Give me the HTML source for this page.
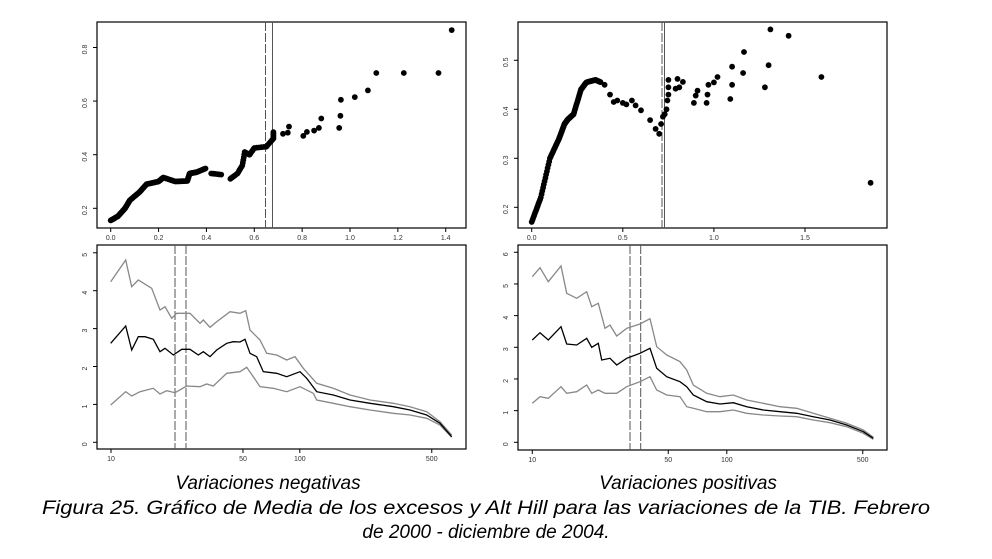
<!DOCTYPE html>
<html><head><meta charset="utf-8"><style>
html,body{margin:0;padding:0;background:#fff;}
svg{display:block;font-family:"Liberation Sans",sans-serif;}
</style></head><body>
<svg id="s" width="992" height="559" viewBox="0 0 992 559" xmlns="http://www.w3.org/2000/svg">
<rect width="992" height="559" fill="#fff"/>
<g fill="none" stroke="#000" stroke-width="1.2">
<rect x="97" y="22" width="369" height="206"/>
<rect x="97" y="245" width="369" height="204"/>
<rect x="518" y="22" width="369" height="206"/>
<rect x="518" y="245" width="369" height="205"/>
</g>
<g id="g"></g>
<g font-style="italic" font-size="19" fill="#000" text-anchor="middle">
<text x="268" y="489">Variaciones negativas</text>
<text x="688" y="489">Variaciones positivas</text>
<text x="486" y="514" textLength="888" lengthAdjust="spacingAndGlyphs">Figura 25. Gráfico de Media de los excesos y Alt Hill para las variaciones de la TIB. Febrero</text>
<text x="486" y="538">de 2000 - diciembre de 2004.</text>
</g>
</svg>
<script>
var g=document.getElementById('g'),h='';
function line(x1,y1,x2,y2,c,w,d){h+='<line x1="'+x1+'" y1="'+y1+'" x2="'+x2+'" y2="'+y2+'" stroke="'+(c||'#000')+'" stroke-width="'+(w||1)+'"'+(d?' stroke-dasharray="'+d+'"':'')+'/>';}
function txt(x,y,t,rot){h+='<text x="'+x+'" y="'+y+'" font-size="7" text-anchor="middle" fill="#333"'+(rot?' transform="rotate(-90 '+x+' '+y+')"':'')+'>'+t+'</text>';}
function dot(x,y){h+='<circle cx="'+x.toFixed(1)+'" cy="'+y.toFixed(1)+'" r="2.9" fill="#000"/>';}
function xt(x,y0,t){line(x,y0,x,y0+4);txt(x,y0+12,t);}
function yt(y,x0,t){line(x0,y,x0-4,y);txt(x0-10,y+2,t,1);}
// top-left axes
[[0,'0.0'],[0.2,'0.2'],[0.4,'0.4'],[0.6,'0.6'],[0.8,'0.8'],[1.0,'1.0'],[1.2,'1.2'],[1.4,'1.4']].forEach(function(a){xt(110.7+239.3*a[0],228,a[1]);});
[[0.2,'0.2'],[0.4,'0.4'],[0.6,'0.6'],[0.8,'0.8']].forEach(function(a){yt(208.3-(a[0]-0.2)*268,97,a[1]);});
// top-right axes
[[0,'0.0'],[0.5,'0.5'],[1.0,'1.0'],[1.5,'1.5']].forEach(function(a){xt(531.7+182.2*a[0],228,a[1]);});
[[0.2,'0.2'],[0.3,'0.3'],[0.4,'0.4'],[0.5,'0.5']].forEach(function(a){yt(207.3-(a[0]-0.2)*490,518,a[1]);});
// bottom-left axes
[[10,'10'],[50,'50'],[100,'100'],[500,'500']].forEach(function(a){xt(111+188.8*Math.log10(a[0]/10),449,a[1]);});
for(var i=0;i<=5;i++)yt(442.3-37.9*i,97,i);
// bottom-right axes
[[10,'10'],[50,'50'],[100,'100'],[500,'500']].forEach(function(a){xt(532.3+194.5*Math.log10(a[0]/10),450,a[1]);});
for(var i=0;i<=6;i++)yt(442.3-31.67*i,518,i);
// vertical lines
line(265.5,22,265.5,228,'#555',1,'9 2');line(272.5,22,272.5,228,'#555',1);
line(662,22,662,228,'#555',1,'9 2');line(664.5,22,664.5,228,'#555',1);
line(175,245,175,449,'#555',1,'9 2');line(186,245,186,449,'#555',1,'9 2');
line(630,245,630,450,'#555',1,'9 2');line(640.7,245,640.7,450,'#555',1,'9 2');
// dense curves
function dense(pts,fx,fy,n){for(var k=0;k<pts.length-1;k++){var a=pts[k],b=pts[k+1];for(var j=0;j<n;j++){var t=j/n;dot(fx(a[0]+(b[0]-a[0])*t),fy(a[1]+(b[1]-a[1])*t));}}}
var fxl=function(x){return 110.7+239.3*x},fyl=function(y){return 208.3-(y-0.2)*268};
dense([[0,0.155],[0.03,0.17],[0.06,0.2],[0.08,0.23],[0.12,0.26],[0.15,0.29],[0.2,0.3],[0.22,0.315],[0.27,0.3],[0.32,0.302],[0.33,0.33],[0.36,0.335],[0.4,0.35]],fxl,fyl,10);
dense([[0.42,0.33],[0.47,0.325]],fxl,fyl,6);
dense([[0.5,0.31],[0.53,0.33],[0.55,0.36],[0.56,0.41],[0.58,0.4],[0.6,0.425],[0.65,0.43],[0.68,0.46],[0.68,0.49]],fxl,fyl,5);
[[0.72,0.478],[0.74,0.482],[0.745,0.505],[0.805,0.47],[0.82,0.485],[0.85,0.49],[0.87,0.5],[0.88,0.535],[0.955,0.5],[0.96,0.545],[0.962,0.605],[1.02,0.615],[1.075,0.64],[1.11,0.705],[1.225,0.705],[1.37,0.705],[1.425,0.865]].forEach(function(p){dot(fxl(p[0]),fyl(p[1]));});
var fxr=function(x){return 531.7+182.2*x},fyr=function(y){return 207.3-(y-0.2)*490};
dense([[0,0.17],[0.05,0.22],[0.1,0.3],[0.15,0.34],[0.18,0.37],[0.2,0.38],[0.23,0.39],[0.27,0.44],[0.3,0.455],[0.35,0.46],[0.38,0.455]],fxr,fyr,12);
[[0.4,0.45],[0.43,0.43],[0.45,0.415],[0.47,0.418],[0.5,0.413],[0.52,0.41],[0.55,0.418],[0.57,0.408],[0.6,0.398],[0.65,0.378],[0.68,0.36],[0.7,0.35],[0.71,0.37],[0.72,0.385],[0.73,0.39],[0.74,0.4],[0.745,0.418],[0.75,0.43],[0.75,0.445],[0.75,0.46],[0.79,0.442],[0.8,0.462],[0.81,0.445],[0.83,0.456],[0.89,0.413],[0.9,0.428],[0.91,0.438],[0.96,0.413],[0.965,0.43],[0.97,0.45],[1.0,0.455],[1.02,0.466],[1.09,0.421],[1.1,0.45],[1.1,0.487],[1.16,0.474],[1.165,0.517],[1.28,0.445],[1.3,0.49],[1.31,0.563],[1.41,0.55],[1.59,0.466],[1.86,0.25]].forEach(function(p){dot(fxr(p[0]),fyr(p[1]));});
// bottom lines
function pl(pts,ox,oy,c,w){h+='<polyline fill="none" stroke="'+c+'" stroke-width="'+w+'" points="'+pts.map(function(p){return (ox+p[0]/3).toFixed(1)+','+(oy+p[1]/3).toFixed(1)}).join(' ')+'"/>';}
pl([[152,125],[197,60],[215,140],[235,120],[275,145],[300,210],[315,200],[335,235],[350,220],[390,220],[420,250],[430,240],[450,262],[470,245],[510,215],[540,220],[557,212],[570,270],[600,300],[620,340],[650,345],[680,360],[705,350],[730,385],[770,430],[820,445],[870,465],[930,480],[1000,490],[1050,500],[1100,515],[1140,545],[1175,585]],60,240,'#888',1.3);
pl([[152,495],[197,455],[215,468],[240,455],[280,445],[300,462],[320,452],[345,458],[380,438],[420,440],[440,432],[460,438],[500,400],[540,395],[560,382],[580,410],[600,440],[640,445],[680,455],[720,440],[760,460],[770,480],[820,490],[870,500],[930,510],[1000,520],[1050,525],[1100,535],[1140,555],[1175,592]],60,240,'#888',1.3);
pl([[152,310],[197,258],[215,330],[235,290],[255,290],[280,298],[300,335],[315,325],[340,345],[365,328],[390,328],[415,345],[430,335],[450,350],[470,330],[500,310],[520,305],[540,306],[555,298],[570,340],[590,350],[610,395],[650,400],[680,410],[720,395],[740,415],[770,455],[820,465],[870,480],[930,490],[1000,500],[1050,510],[1100,525],[1140,550],[1175,590]],60,240,'#000',1.3);
pl([[157,110],[180,83],[205,125],[243,78],[260,160],[290,175],[320,155],[335,200],[355,190],[375,265],[390,255],[410,288],[440,265],[480,252],[510,236],[530,320],[560,345],[600,365],[620,390],[640,435],[680,460],[720,470],[760,465],[800,480],[850,490],[900,500],[950,505],[1000,520],[1050,535],[1100,550],[1150,570],[1180,592]],480,240,'#888',1.3);
pl([[157,490],[180,470],[205,475],[243,440],[260,460],[290,455],[320,435],[335,460],[355,450],[375,460],[410,460],[440,440],[480,425],[510,410],[530,450],[560,465],[600,470],[620,500],[640,505],[680,515],[720,515],[760,510],[800,520],[850,525],[900,528],[950,530],[1000,540],[1050,548],[1100,560],[1150,580],[1180,598]],480,240,'#888',1.3);
pl([[157,300],[180,278],[205,300],[243,260],[260,312],[290,315],[320,295],[335,322],[355,310],[365,360],[390,355],[410,375],[440,355],[480,340],[510,325],[530,385],[560,410],[600,425],[620,440],[640,465],[680,485],[720,492],[760,488],[800,500],[850,510],[900,515],[950,520],[1000,530],[1050,540],[1100,555],[1150,575],[1180,595]],480,240,'#000',1.3);
g.innerHTML=h;
</script>
</body></html>
